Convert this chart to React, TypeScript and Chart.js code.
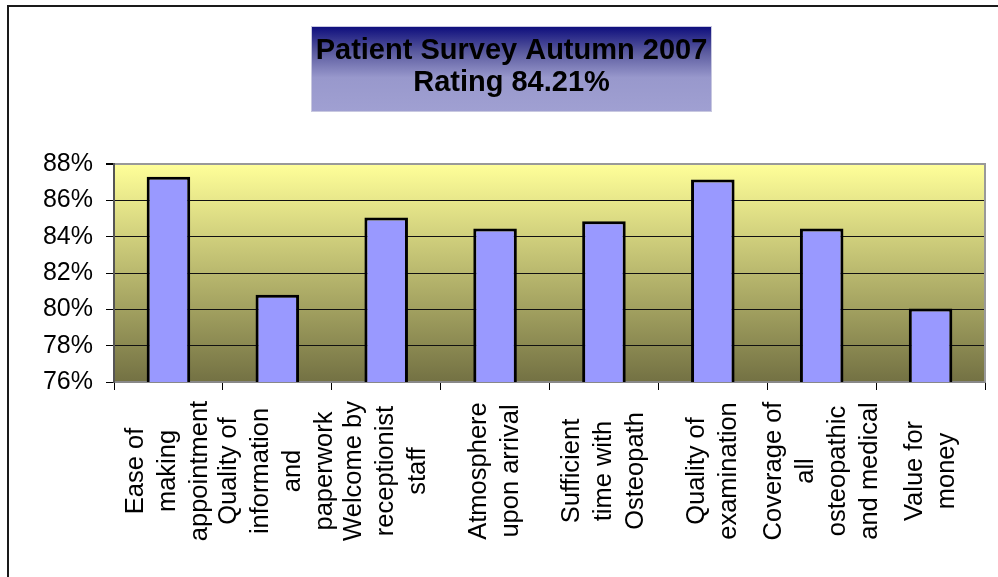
import React, { useEffect, useRef } from "react";
import { Chart, registerables } from "chart.js";

Chart.register(...registerables);

const TITLE_LINES = ["Patient Survey Autumn 2007", "Rating 84.21%"];
const CATEGORIES: string[][] = [
  ["Ease of", "making", "appointment"],
  ["Quality of", "information", "and", "paperwork"],
  ["Welcome by", "receptionist", "staff"],
  ["Atmosphere", "upon arrival"],
  ["Sufficient", "time with", "Osteopath"],
  ["Quality of", "examination"],
  ["Coverage of", "all", "osteopathic", "and medical"],
  ["Value for", "money"],
];
const RATINGS = [87.3, 80.8, 85.05, 84.45, 84.85, 87.15, 84.45, 80.05];
const Y_MIN = 76;
const Y_MAX = 88;
const Y_STEP = 2;

const FONT = '"Liberation Sans", Arial, sans-serif';

const decorPlugin = {
  id: "decor",
  beforeDraw(chart: any) {
    const { ctx, chartArea } = chart;
    ctx.save();
    ctx.fillStyle = "#ffffff";
    ctx.fillRect(0, 0, chart.width, chart.height);

    // outer frame (top + left)
    ctx.strokeStyle = "#1a1a1a";
    ctx.lineWidth = 2;
    ctx.beginPath();
    ctx.moveTo(8, 577);
    ctx.lineTo(8, 6);
    ctx.lineTo(998, 6);
    ctx.stroke();

    // title box
    const bx = 311, by = 26, bw = 401, bh = 86;
    const g = ctx.createLinearGradient(0, by, 0, by + bh);
    g.addColorStop(0, "#0c0c7c");
    g.addColorStop(0.3, "#5a5a9e");
    g.addColorStop(0.6, "#9898cc");
    g.addColorStop(1, "#a0a0d2");
    ctx.fillStyle = g;
    ctx.fillRect(bx, by, bw, bh);
    ctx.strokeStyle = "#c8c8e0";
    ctx.lineWidth = 1;
    ctx.strokeRect(bx + 0.5, by + 0.5, bw - 1, bh - 1);
    ctx.fillStyle = "#000";
    ctx.font = `bold 29px ${FONT}`;
    ctx.textAlign = "center";
    ctx.textBaseline = "alphabetic";
    ctx.fillText(TITLE_LINES[0], bx + bw / 2, 59);
    ctx.fillText(TITLE_LINES[1], bx + bw / 2, 91);

    // plot area gradient
    const pg = ctx.createLinearGradient(0, chartArea.top, 0, chartArea.bottom);
    pg.addColorStop(0, "#ffff99");
    pg.addColorStop(1, "#737143");
    ctx.fillStyle = pg;
    ctx.fillRect(chartArea.left, chartArea.top, chartArea.right - chartArea.left, chartArea.bottom - chartArea.top);
    ctx.restore();
  },
  afterDraw(chart: any) {
    const { ctx, chartArea } = chart;
    ctx.save();
    // right border of plot
    ctx.strokeStyle = "#999";
    ctx.lineWidth = 2;
    ctx.beginPath();
    ctx.moveTo(chartArea.right, chartArea.top - 1);
    ctx.lineTo(chartArea.right, chartArea.bottom);
    ctx.stroke();

    // category labels, rotated, centred lines
    const xScale = chart.scales.x;
    const labels = chart.data.labels as string[][];
    ctx.fillStyle = "#000";
    ctx.font = `25.5px ${FONT}`;
    ctx.textAlign = "center";
    ctx.textBaseline = "middle";
    const pitch = 32;
    const cy = 471;
    labels.forEach((lines, i) => {
      const cx = xScale.getPixelForValue(i);
      const n = lines.length;
      lines.forEach((line, j) => {
        ctx.save();
        ctx.translate(cx + (j - (n - 1) / 2) * pitch, cy);
        ctx.rotate(-Math.PI / 2);
        ctx.fillText(line, 0, 0);
        ctx.restore();
      });
    });
    ctx.restore();
  },
};

export default function App() {
  const ref = useRef<HTMLCanvasElement>(null);
  useEffect(() => {
    if (!ref.current) return;
    const chart = new Chart(ref.current, {
      type: "bar",
      data: {
        labels: CATEGORIES as any,
        datasets: [
          {
            data: RATINGS,
            backgroundColor: "#9999ff",
            borderColor: "#000000",
            borderWidth: 3,
            barPercentage: 0.4,
            categoryPercentage: 1,
          },
        ],
      },
      options: {
        responsive: false,
        animation: false,
        devicePixelRatio: 1,
        layout: { padding: { left: 0, top: 164, right: 13, bottom: 0 } },
        plugins: {
          legend: { display: false },
          title: { display: false },
          tooltip: { enabled: false },
        },
        scales: {
          x: {
            grid: {
              display: true,
              drawOnChartArea: false,
              drawTicks: true,
              tickLength: 8,
              color: "#000",
              lineWidth: 1,
              offset: true,
            },
            border: { display: true, color: "#888", width: 2 },
            ticks: { display: false },
            afterFit: (s: any) => {
              s.height = 195;
            },
          },
          y: {
            min: Y_MIN,
            max: Y_MAX,
            ticks: {
              stepSize: Y_STEP,
              callback: (v: any) => `${v}%`,
              font: { family: FONT, size: 25 },
              color: "#000",
              padding: 13,
            },
            grid: {
              color: (c: any) => (c.tick && c.tick.value === Y_MAX ? "#999" : "#111"),
              tickColor: "#000",
              lineWidth: (c: any) => (c.tick && c.tick.value === Y_MAX ? 2 : 1),
              tickLength: 8,
            },
            border: { display: true, color: "#555", width: 2 },
            afterFit: (s: any) => {
              s.width = 114;
            },
          },
        },
      },
      plugins: [decorPlugin],
    });
    return () => chart.destroy();
  }, []);
  return (
    <div style={{ position: "absolute", left: 0, top: 0, width: 998, height: 577 }}>
      <canvas ref={ref} width={998} height={577} style={{ display: "block", width: 998, height: 577 }} />
    </div>
  );
}
